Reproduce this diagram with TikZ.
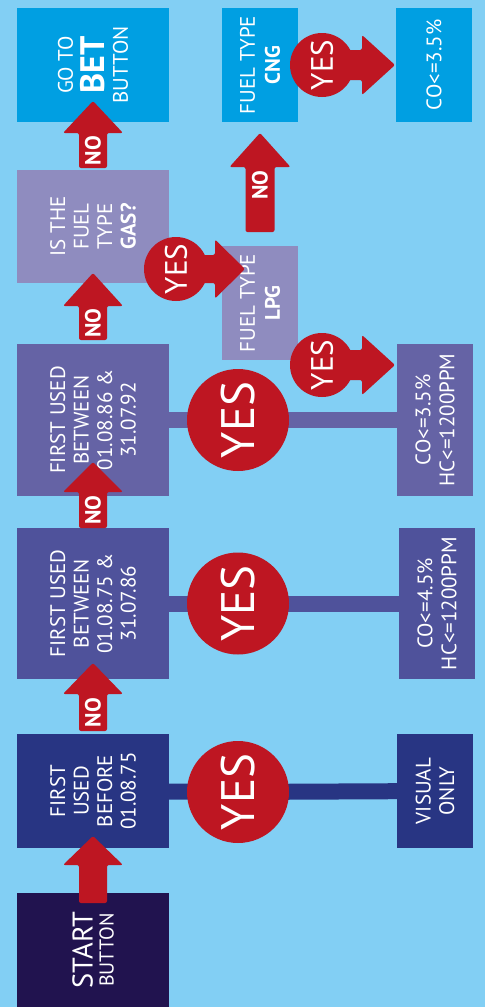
\documentclass[tikz,border=0pt]{standalone}
\usepackage{fontspec}
\setmainfont{PT Sans}
\usetikzlibrary{calc}
\pgfdeclarelayer{background}
\pgfdeclarelayer{bars}
\pgfdeclarelayer{boxes}
\pgfdeclarelayer{arrows}
\pgfsetlayers{background,bars,boxes,arrows,main}
\definecolor{bgblue}{HTML}{82CFF4}
\definecolor{cbright}{HTML}{009FE2}
\definecolor{clav}{HTML}{8F8CBF}
\definecolor{cmid}{HTML}{6563A5}
\definecolor{cindigo}{HTML}{4F529B}
\definecolor{cnavy}{HTML}{283583}
\definecolor{cdark}{HTML}{21134F}
\definecolor{arrowred}{HTML}{BE1622}
\tikzset{
  every node/.style={inner sep=0pt, outer sep=0pt},
  box/.style={rotate=90, align=center, text=white, font=\fontsize{21}{23.5}\selectfont},
  yesbig/.style={circle, fill=arrowred, text=white, rotate=90, minimum size=102pt, font=\fontsize{47}{47}\selectfont},
  yessmall/.style={circle, fill=arrowred, text=white, rotate=90, minimum size=64pt, font=\fontsize{31}{31}\selectfont},
  notext/.style={rotate=90, text=white, font=\fontsize{22}{22}\selectfont\bfseries},
  bar/.style={line width=16pt},
  redblock/.style={fill=arrowred, rounded corners=2pt},
}
% #1 name, #2 tail, #3 tip, #4 shaft half width, #5 head half width, #6 head length, #7 label, #8 label position
\newcommand\upblock[8]{%
  \fill[redblock] let \p1=(#2), \p2=(#3) in
    (\x1-#4pt,\y1) -- (\x1-#4pt,\y2-#6pt) -- (\x1-#5pt,\y2-#6pt) -- (\x1,\y2)
    -- (\x1+#5pt,\y2-#6pt) -- (\x1+#4pt,\y2-#6pt) -- (\x1+#4pt,\y1) -- cycle
    (\x1,{\y1+#8*(\y2-#6pt-\y1)}) node[notext] (#1) {#7};
}
% #1 tail, #2 tip, #3 shaft half width, #4 head half width, #5 head length
\newcommand\rightblock[5]{%
  \fill[redblock] let \p1=(#1), \p2=(#2) in
    (\x1,\y1-#3pt) -- (\x2-#5pt,\y1-#3pt) -- (\x2-#5pt,\y1-#4pt) -- (\x2,\y1)
    -- (\x2-#5pt,\y1+#4pt) -- (\x2-#5pt,\y1+#3pt) -- (\x1,\y1+#3pt) -- cycle;
}
\begin{document}
\begin{tikzpicture}[x=1pt,y=-1pt]
\useasboundingbox (0,0) rectangle (485,1007);
\begin{pgfonlayer}{background}
\fill[bgblue] (0,0) rectangle (485,1007);
\end{pgfonlayer}

\begin{pgfonlayer}{boxes}
\node[box, fill=cdark, minimum width=114pt, minimum height=152pt, font=\fontsize{20}{21}\selectfont] (start) at (93,950)
  {{\fontsize{28.5}{28.5}\selectfont START}\\BUTTON};
\node[box, fill=cnavy, minimum width=114pt, minimum height=152pt] (before) at (93,791)
  {FIRST\\USED\\BEFORE\\01.08.75};
\node[box, fill=cindigo, minimum width=151pt, minimum height=152pt] (b7586) at (93,603.5)
  {FIRST USED\\BETWEEN\\01.08.75 \&\\31.07.86};
\node[box, fill=cmid, minimum width=152pt, minimum height=152pt] (b8692) at (93,420)
  {FIRST USED\\BETWEEN\\01.08.86 \&\\31.07.92};
\node[box, fill=clav, minimum width=113pt, minimum height=152pt] (gas) at (93,226.5)
  {IS THE\\FUEL\\TYPE\\\textbf{GAS?}};
\node[box, fill=cbright, minimum width=114pt, minimum height=152pt] (bet) at (93,65)
  {GO TO\\[6pt]{\fontsize{34}{34}\selectfont\bfseries BET}\\BUTTON};
\node[box, fill=cbright, minimum width=114pt, minimum height=76pt, font=\fontsize{21}{25}\selectfont] (cng) at (260,65)
  {FUEL TYPE\\\textbf{CNG}};
\node[box, fill=clav, minimum width=114pt, minimum height=76pt, font=\fontsize{21}{25}\selectfont] (lpg) at (260,303)
  {FUEL TYPE\\\textbf{LPG}};
\node[box, fill=cbright, minimum width=114pt, minimum height=76pt] (r3) at (434,65)
  {CO<=3.5\%};
\node[box, fill=cmid, minimum width=152pt, minimum height=76pt, font=\fontsize{21}{24}\selectfont] (r8692) at (435,420)
  {CO<=3.5\%\\HC<=1200PPM};
\node[box, fill=cindigo, minimum width=151pt, minimum height=76pt, font=\fontsize{21}{24}\selectfont] (r7586) at (437,603.5)
  {CO<=4.5\%\\HC<=1200PPM};
\node[box, fill=cnavy, minimum width=114pt, minimum height=76pt, font=\fontsize{21}{23.5}\selectfont] (visual) at (435,791)
  {VISUAL\\ONLY};
\end{pgfonlayer}

% YES circles
\node[yesbig] (y1) at (238,792) {YES};
\node[yesbig] (y2) at (238,603.5) {YES};
\node[yesbig] (y3) at (238,420) {YES};
\node[yessmall] (ylpg) at (322,365) {YES};
\node[yessmall] (ygas) at (176,269) {YES};
\node[yessmall] (ycng) at (322,65) {YES};

\begin{pgfonlayer}{bars}
\draw[bar, cnavy] (before.center) -- (y1.center) -- (visual.center);
\draw[bar, cindigo] (b7586.center) -- (y2.center) -- (r7586.center);
\draw[bar, cmid] (b8692.center) -- (y3.center) -- (r8692.center);
\end{pgfonlayer}

\begin{pgfonlayer}{arrows}
\upblock{a1}{$(start.east)+(0,10)$}{$(before.west)+(0,-12)$}{14}{30}{29}{}{0.5}
\upblock{a2}{$(before.east)+(0,-3)$}{$(b7586.west)+(0,-16)$}{14}{30}{31}{NO}{0.5}
\upblock{a3}{b7586.east}{$(b8692.west)+(0,-34)$}{14}{30}{30}{NO}{0.5}
\upblock{a4}{$(b8692.east)+(0,-4)$}{$(gas.west)+(0,-10)$}{14}{30}{33}{NO}{0.5}
\upblock{a5}{$(gas.east)+(0,-2)$}{$(bet.west)+(0,-21)$}{14}{30}{32}{NO}{0.5}
\upblock{a6}{$(lpg.east)+(0,-14)$}{$(cng.west)+(0,11)$}{14.5}{30.5}{34}{NO}{0.72}
\rightblock{ycng.center}{$(r3.north)+(-1,0)$}{15}{30}{33}
\rightblock{ygas.center}{$(lpg.north)+(23,0)$}{14}{29.5}{30}
\rightblock{ylpg.center}{$(r8692.north)+(-2,0)$}{15}{30}{33}
\end{pgfonlayer}
\end{tikzpicture}
\end{document}
